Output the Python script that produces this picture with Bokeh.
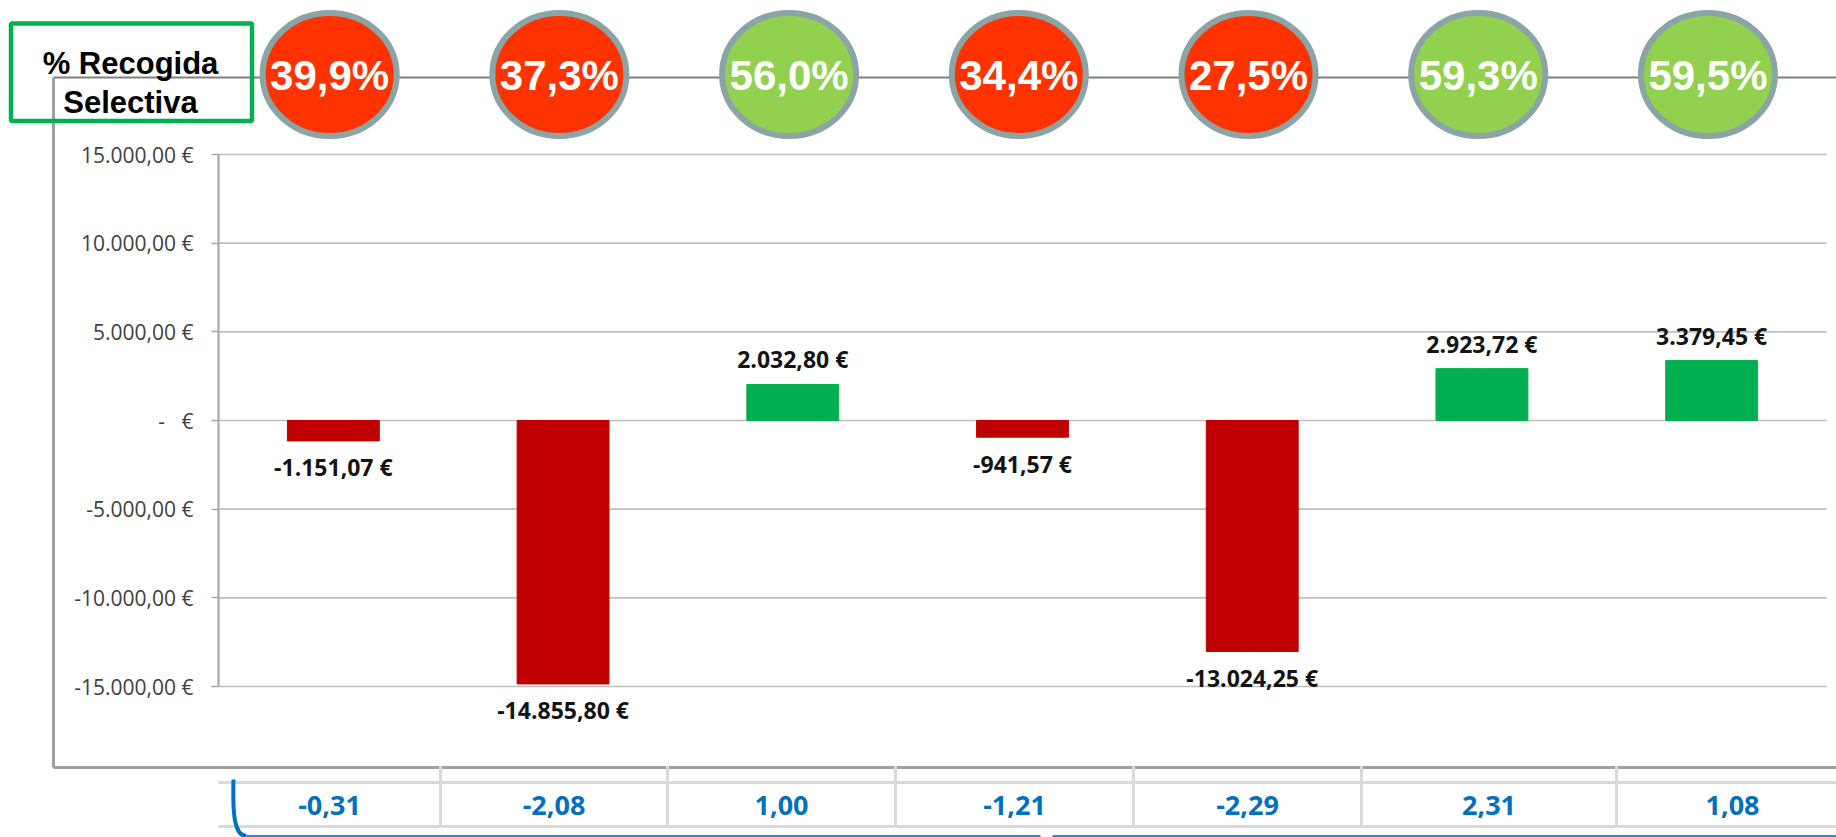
from bokeh.plotting import figure
from bokeh.models import Range1d, FixedTicker
from bokeh.embed import file_html
from bokeh.resources import INLINE
from bokeh.core.properties import value

# ---------------- data ----------------
pct_recogida = [39.9, 37.3, 56.0, 34.4, 27.5, 59.3, 59.5]
diferencia = [-1151.07, -14855.80, 2032.80, -941.57, -13024.25, 2923.72, 3379.45]
indice = [-0.31, -2.08, 1.00, -1.21, -2.29, 2.31, 1.08]
y_ticks = [-15000, -10000, -5000, 0, 5000, 10000, 15000]
titulo = ["% Recogida", "Selectiva"]
umbral_pct = 50.0


def eur(v):
    if v == 0:
        return "-\u00a0\u00a0\u00a0€"
    s = f"{v:,.2f}".replace(",", "X").replace(".", ",").replace("X", ".")
    return s + " €"


def pct_txt(v):
    return f"{v:.1f}".replace(".", ",") + "%"


def num_txt(v):
    return f"{v:.2f}".replace(".", ",")


# ---------------- layout (reference pixel geometry) ----------------
W, H = 1836, 837
X0_REF, X7_REF = 218, 1826          # plot area left / right (px)
Y15_REF, YM15_REF = 154, 686        # +15000 / -15000 gridlines (px)
UNIT = (X7_REF - X0_REF) / 7.0
PX = (YM15_REF - Y15_REF) / 30000.0


def X(rx):
    return (rx - X0_REF) / UNIT


def Y(ry):
    return 15000 - (ry - Y15_REF) / PX


p = figure(width=W, height=H,
           x_range=Range1d(X(0), X(W)),
           y_range=Range1d(Y(H), Y(0)),
           output_backend="svg", toolbar_location=None,
           x_axis_location=None,
           min_border_left=0, min_border_right=0,
           min_border_top=0, min_border_bottom=0)
p.outline_line_color = None
p.background_fill_color = "white"
p.border_fill_color = "white"
p.xgrid.grid_line_color = None
p.ygrid.grid_line_color = None

p.yaxis.fixed_location = 0
p.yaxis.bounds = (y_ticks[0], y_ticks[-1])
p.yaxis.ticker = FixedTicker(ticks=y_ticks)
p.yaxis.axis_line_color = "#B3B3B3"
p.yaxis.axis_line_width = 2.5
p.yaxis.major_tick_in = 0
p.yaxis.major_tick_out = 7
p.yaxis.major_tick_line_color = "#A6A6A6"
p.yaxis.major_tick_line_width = 1.5
p.yaxis.minor_tick_line_color = None
p.yaxis.major_label_standoff = 18
p.yaxis.major_label_text_font = "Open Sans"
p.yaxis.major_label_text_font_size = "21px"
p.yaxis.major_label_text_color = "#404040"
p.yaxis.major_label_overrides = {t: eur(t) for t in y_ticks}

# chart-area border
p.segment(x0=[X(53)], y0=[Y(77)], x1=[X(W)], y1=[Y(77)],
          line_color="#808080", line_width=1.8)
p.segment(x0=[X(53), X(53)], y0=[Y(77), Y(767)], x1=[X(53), X(W)], y1=[Y(767), Y(767)],
          line_color="#A0A0A0", line_width=3)

# horizontal gridlines
p.segment(x0=[0] * len(y_ticks), y0=y_ticks, x1=[7] * len(y_ticks), y1=y_ticks,
          line_color="#BFBFBF", line_width=1.6)

# bars
xs = [i + 0.5 for i in range(len(diferencia))]
bar_colors = ["#00B050" if v >= 0 else "#C00000" for v in diferencia]
p.vbar(x=xs, top=diferencia, bottom=0, width=0.4,
       fill_color=bar_colors, line_color=bar_colors)

# bar labels
p.text(x=xs, y=diferencia, text=[eur(v) for v in diferencia],
       y_offset=[-25 if v >= 0 else 26.5 for v in diferencia],
       text_align="center", text_baseline="middle",
       text_font=value("Open Sans"), text_font_style="bold",
       text_font_size="23px", text_color="#141414")

# % recogida selectiva bubbles
cx = [x - 3.7 / UNIT for x in xs]
bub_colors = ["#92D050" if v >= umbral_pct else "#FF3300" for v in pct_recogida]
p.ellipse(x=cx, y=[Y(74)] * len(cx), width=134 / UNIT, height=123 / PX,
          fill_color=bub_colors, line_color="#8BA5A6", line_width=6)
p.text(x=cx, y=[Y(75)] * len(cx), text=[pct_txt(v) for v in pct_recogida],
       text_align="center", text_baseline="middle",
       text_font=value("Liberation Sans"), text_font_style="bold",
       text_font_size="42px", text_color="white")

# title box
p.quad(left=[X(10.5)], right=[X(251.5)], top=[Y(23)], bottom=[Y(120.5)],
       fill_color=None, line_color="#00B050", line_width=4.5)
p.text(x=[X(130)] * 2, y=[Y(63), Y(102)], text=titulo,
       text_align="center", text_baseline="alphabetic",
       text_font=value("Liberation Sans"), text_font_style="bold",
       text_font_size="31px", text_color="black")

# table under the chart
cell_edges = [218, 440, 667, 895, 1133, 1361, 1616, 1848]
p.segment(x0=[X(218)] * 2, y0=[Y(782), Y(826)], x1=[X(W)] * 2, y1=[Y(782), Y(826)],
          line_color="#D9D9D9", line_width=3)
p.segment(x0=[X(e) for e in cell_edges[1:-1]], y0=[Y(765)] * 6,
          x1=[X(e) for e in cell_edges[1:-1]], y1=[Y(826)] * 6,
          line_color="#D9D9D9", line_width=3)
cell_cx = [X((a + b) / 2) for a, b in zip(cell_edges[:-1], cell_edges[1:])]
p.text(x=cell_cx, y=[Y(805)] * len(indice), text=[num_txt(v) for v in indice],
       text_align="center", text_baseline="middle",
       text_font=value("Open Sans"), text_font_style="bold",
       text_font_size="27px", text_color="#0070C0")

# blue bracket at the table's left
p.bezier(x0=[X(233)], y0=[Y(779)], x1=[X(246)], y1=[Y(835.5)],
         cx0=[X(232)], cy0=[Y(815)], cx1=[X(234)], cy1=[Y(835.5)],
         line_color="#0070C0", line_width=4)
p.segment(x0=[X(246), X(1052)], y0=[Y(835.5)] * 2, x1=[X(1040), X(W)], y1=[Y(835.5)] * 2,
          line_color="#2E86D4", line_width=2)

open("out.html", "w").write(file_html(p, INLINE))
